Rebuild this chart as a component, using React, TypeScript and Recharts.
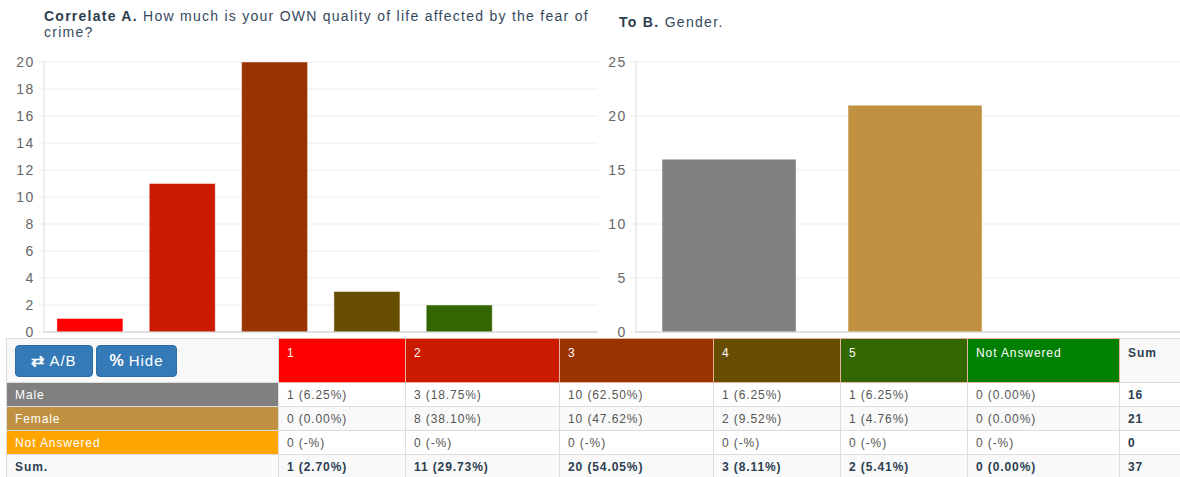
import React from "react";
import { BarChart, Bar, XAxis, YAxis, CartesianGrid, Cell } from "recharts";

// correlate A: quality of life affected by fear of crime
const answerLabels = ["1", "2", "3", "4", "5", "Not Answered"];
const answerCounts = [1, 11, 20, 3, 2, 0];
const answerColors = ["#ff0000", "#cc1a00", "#993300", "#664d00", "#336600", "#008000"];
const answerTicks = [0, 2, 4, 6, 8, 10, 12, 14, 16, 18, 20];

// to B: gender
const genderLabels = ["Male", "Female", "Not Answered"];
const genderCounts = [16, 21, 0];
const genderColors = ["#808080", "#bf9140", "#ffa500"];
const genderTicks = [0, 5, 10, 15, 20, 25];

// cross table rows
const maleRow = ["1 (6.25%)", "3 (18.75%)", "10 (62.50%)", "1 (6.25%)", "1 (6.25%)", "0 (0.00%)"];
const femaleRow = ["0 (0.00%)", "8 (38.10%)", "10 (47.62%)", "2 (9.52%)", "1 (4.76%)", "0 (0.00%)"];
const notAnsweredRow = ["0 (-%)", "0 (-%)", "0 (-%)", "0 (-%)", "0 (-%)", "0 (-%)"];
const sumRow = ["1 (2.70%)", "11 (29.73%)", "20 (54.05%)", "3 (8.11%)", "2 (5.41%)", "0 (0.00%)"];
const rowSums = [16, 21, 0, 37];

const colWidths = [272, 127, 154, 154, 127, 127, 152, 70];

const FONT = "'Liberation Sans', Arial, sans-serif";
const tickStyle = { fontSize: 14, fill: "#666", fontFamily: FONT, letterSpacing: 1.6 };

const answerData = answerLabels.map((name, i) => ({ name, value: answerCounts[i] }));
const genderData = genderLabels.map((name, i) => ({ name, value: genderCounts[i] }));

const cellBase: React.CSSProperties = {
  border: "1px solid #ddd",
  padding: "0 8px",
  fontSize: 12,
  letterSpacing: 0.9,
  color: "#555",
  textAlign: "left",
  height: 24,
  boxSizing: "border-box",
  whiteSpace: "nowrap",
  overflow: "hidden",
};

function Button({ icon, label, left, width }: { icon: string; label: string; left: number; width: number }) {
  return (
    <div
      style={{
        position: "absolute",
        left,
        top: 6,
        width,
        height: 32,
        background: "#337ab7",
        border: "1px solid #2e6da4",
        borderRadius: 4,
        color: "#fff",
        fontSize: 15,
        letterSpacing: 1,
        lineHeight: "30px",
        textAlign: "center",
        boxSizing: "border-box",
        whiteSpace: "nowrap",
      }}
    >
      <b style={{ marginRight: 4, fontSize: 16 }}>{icon}</b>
      {label}
    </div>
  );
}

function DataRow({ label, bg, color, cells, sum, bold, stripe }: any) {
  return (
    <tr style={{ background: stripe ? "#f9f9f9" : "#fff" }}>
      <td style={{ ...cellBase, background: bg, color, fontWeight: bold ? "bold" : "normal" }}>{label}</td>
      {cells.map((c: string, i: number) => (
        <td key={i} style={{ ...cellBase, fontWeight: bold ? "bold" : "normal", color: bold ? "#2c3e50" : "#555" }}>
          {c}
        </td>
      ))}
      <td style={{ ...cellBase, fontWeight: "bold", color: "#2c3e50" }}>{sum}</td>
    </tr>
  );
}

const titleLine: React.CSSProperties = {
  position: "absolute",
  left: 44,
  width: 545,
  fontSize: 14,
  letterSpacing: 1.25,
  lineHeight: "16px",
  color: "#34495e",
  whiteSpace: "nowrap",
};

export default function App() {
  return (
    <div style={{ position: "relative", width: 1180, height: 477, overflow: "hidden", background: "#fff", fontFamily: FONT }}>
      <style>{"body{margin:0}"}</style>

      {/* titles */}
      <div style={{ ...titleLine, top: 8, display: "flex", justifyContent: "space-between" }}>
        <b style={{ color: "#2c3e50" }}>Correlate A.</b>
        <span>How</span>
        <span>much</span>
        <span>is</span>
        <span>your</span>
        <span>OWN</span>
        <span>quality</span>
        <span>of</span>
        <span>life</span>
        <span>affected</span>
        <span>by</span>
        <span>the</span>
        <span>fear</span>
        <span>of</span>
      </div>
      <div style={{ ...titleLine, top: 24 }}>crime?</div>
      <div style={{ position: "absolute", left: 619, top: 14, fontSize: 14, letterSpacing: 1.3, color: "#34495e" }}>
        <b style={{ color: "#2c3e50" }}>To B.</b> Gender.
      </div>

      {/* left chart */}
      <div style={{ position: "absolute", left: 0, top: 52 }}>
        <BarChart width={600} height={290} data={answerData} margin={{ top: 10, right: 2, bottom: 0, left: 0 }} barCategoryGap="14%">
          <CartesianGrid vertical={false} stroke="#ececec" />
          <XAxis dataKey="name" tick={false} height={10} axisLine={{ stroke: "#ccc" }} tickLine={false} />
          <YAxis
            width={44}
            domain={[0, 20]}
            ticks={answerTicks}
            interval={0}
            tick={tickStyle}
            tickSize={5}
            tickMargin={4}
            axisLine={{ stroke: "#ddd" }}
            tickLine={{ stroke: "#ececec" }}
          />
          <Bar dataKey="value" isAnimationActive={false} stroke="rgba(255,255,255,0.45)" strokeWidth={1}>
            {answerData.map((d, i) => (
              <Cell key={d.name} fill={answerColors[i]} />
            ))}
          </Bar>
        </BarChart>
      </div>

      {/* right chart */}
      <div style={{ position: "absolute", left: 590, top: 52 }}>
        <BarChart width={604} height={290} data={genderData} margin={{ top: 10, right: 0, bottom: 0, left: 0 }} barCategoryGap="14%">
          <CartesianGrid vertical={false} stroke="#ececec" />
          <XAxis dataKey="name" tick={false} height={10} axisLine={{ stroke: "#ccc" }} tickLine={false} />
          <YAxis
            width={46}
            domain={[0, 25]}
            ticks={genderTicks}
            interval={0}
            tick={tickStyle}
            tickSize={5}
            tickMargin={4}
            axisLine={{ stroke: "#ddd" }}
            tickLine={{ stroke: "#ececec" }}
          />
          <Bar dataKey="value" isAnimationActive={false} stroke="rgba(255,255,255,0.45)" strokeWidth={1}>
            {genderData.map((d, i) => (
              <Cell key={d.name} fill={genderColors[i]} />
            ))}
          </Bar>
        </BarChart>
      </div>

      {/* cross table */}
      <div style={{ position: "absolute", left: 6, top: 338 }}>
        <table style={{ borderCollapse: "collapse", tableLayout: "fixed", width: colWidths.reduce((a, b) => a + b, 0) }}>
          <colgroup>
            {colWidths.map((w, i) => (
              <col key={i} style={{ width: w }} />
            ))}
          </colgroup>
          <tbody>
            <tr style={{ height: 44 }}>
              <td style={{ ...cellBase, height: 44, background: "#f9f9f9", position: "relative" }}>
                <Button icon="⇄" label="A/B" left={8} width={78} />
                <Button icon="%" label="Hide" left={89} width={81} />
              </td>
              {answerLabels.map((l, i) => (
                <td
                  key={l}
                  style={{
                    ...cellBase,
                    height: 44,
                    background: answerColors[i],
                    color: "#fff",
                    verticalAlign: "top",
                    paddingTop: 7,
                    borderColor: "#e8b0a0",
                  }}
                >
                  {l}
                </td>
              ))}
              <td style={{ ...cellBase, height: 44, verticalAlign: "top", paddingTop: 7, fontWeight: "bold", color: "#2c3e50", background: "#f9f9f9" }}>
                Sum
              </td>
            </tr>
            <DataRow label="Male" bg="#808080" color="#fff" cells={maleRow} sum={rowSums[0]} />
            <DataRow label="Female" bg="#bf9140" color="#fff" cells={femaleRow} sum={rowSums[1]} stripe />
            <DataRow label="Not Answered" bg="#ffa500" color="#fff" cells={notAnsweredRow} sum={rowSums[2]} />
            <DataRow label="Sum." bg="#f9f9f9" color="#2c3e50" cells={sumRow} sum={rowSums[3]} bold stripe />
          </tbody>
        </table>
      </div>
    </div>
  );
}
